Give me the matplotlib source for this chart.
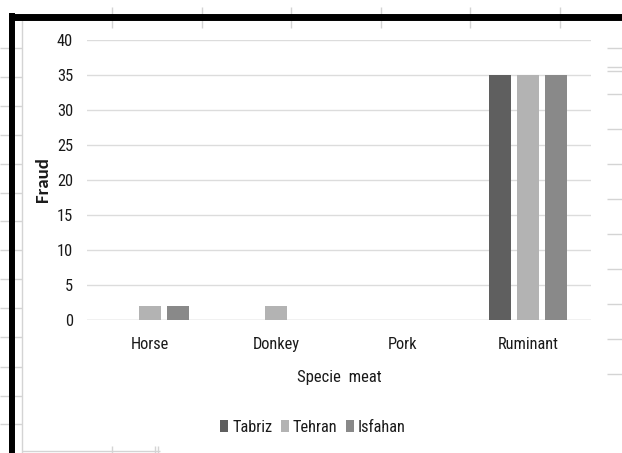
import numpy as np
import matplotlib
matplotlib.use("Agg")
import matplotlib.pyplot as plt
from matplotlib.lines import Line2D

# data
categories = ["Horse", "Donkey", "Pork", "Ruminant"]
cities = ["Tabriz", "Tehran", "Isfahan"]
tabriz = [0, 0, 0, 35]
tehran = [2, 2, 0, 35]
isfahan = [2, 0, 0, 35]
colors = ["#5f5f5f", "#b3b3b3", "#898989"]

W, H = 622, 453
fig = plt.figure(figsize=(W / 100, H / 100), dpi=100)
fig.patch.set_facecolor("white")


def fx(px):
    return px / W


def fy(py):
    return 1 - py / H


def fig_line(x0, y0, x1, y1, color="#d4d4d4", lw=1.0):
    fig.add_artist(Line2D([fx(x0), fx(x1)], [fy(y0), fy(y1)],
                          transform=fig.transFigure, color=color, lw=lw,
                          solid_capstyle="butt"))


# spreadsheet background bits
for x in [112, 202, 291, 381, 470, 560]:
    fig_line(x, 7, x, 28)
for y in [48, 77, 106, 135, 164, 193, 221, 250, 279, 308, 337, 367, 396, 424]:
    fig_line(0, y, 22, y)
for y in [48, 67, 71, 94, 129, 164, 199, 234, 269, 304, 339, 374]:
    fig_line(607, y, 622, y)
for x in [112, 155, 158]:
    fig_line(x, 446, x, 453)
fig_line(22, 20, 22, 453)
fig_line(22, 451, 160, 451)

# thick black frame
fig_line(9, 16.5, 622, 16.5, color="black", lw=5)
fig_line(12, 13, 12, 453, color="black", lw=4.3)

ax = fig.add_axes([fx(87), fy(320), fx(591) - fx(87), fy(40) - fy(320)])
ax.set_facecolor("none")

x = np.arange(len(categories))
width = 0.175
step = 0.222
for i, (name, vals) in enumerate(zip(cities, [tabriz, tehran, isfahan])):
    ax.bar(x + (i - 1) * step, vals, width, color=colors[i], label=name, zorder=3)

ax.set_xlim(-0.5, len(categories) - 0.5)
ax.set_ylim(0, 40)
ax.set_yticks(range(0, 41, 5))
ax.yaxis.grid(True, color="#dcdcdc", lw=1.0, zorder=0)
ax.set_axisbelow(True)
for s in ax.spines.values():
    s.set_visible(False)
ax.axhline(0, color="#d9d9d9", lw=1.0, zorder=1)

font = ["Roboto Condensed", "DejaVu Sans"]
ax.set_xticks(x)
ax.set_xticklabels(categories, family=font, fontsize=11.8)
for lab in ax.get_yticklabels():
    lab.set_family(font)
    lab.set_fontsize(11.8)
ax.tick_params(axis="both", length=0, colors="#1a1a1a")
ax.tick_params(axis="x", pad=12)
ax.tick_params(axis="y", pad=10)

ax.set_xlabel("Specie  meat", family=font, fontsize=12, color="#1a1a1a", labelpad=13)
ax.set_ylabel("Fraud", family=["Carlito", "DejaVu Sans"], fontweight="bold",
              fontsize=13.5, color="#1a1a1a")
ax.yaxis.label.set_va("center")
ax.yaxis.set_label_coords((43 - 87) / 504, 0.5)

leg = ax.legend(loc="center", bbox_to_anchor=(fx(313), fy(427)),
                bbox_transform=fig.transFigure, ncol=3, frameon=False,
                prop={"family": font, "size": 11.8}, handlelength=0.5,
                handleheight=0.75, handletextpad=0.25, columnspacing=0.5,
                borderpad=0)
for t in leg.get_texts():
    t.set_color("#1a1a1a")

fig.savefig("out.png", dpi=100)
